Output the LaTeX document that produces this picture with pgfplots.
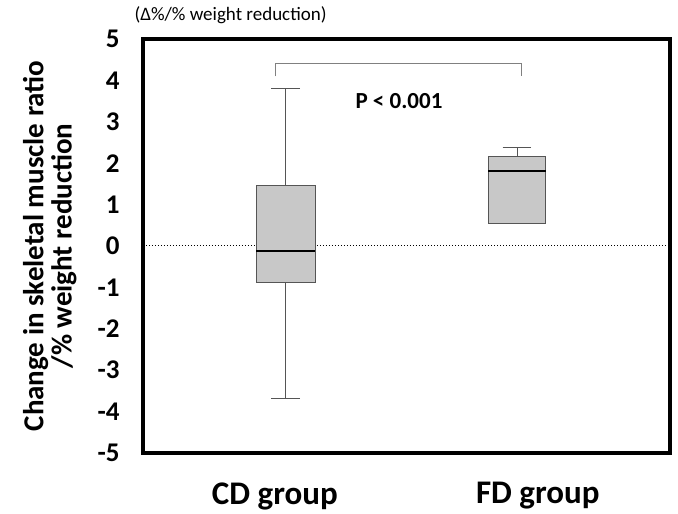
\documentclass[border=0pt]{standalone}
\usepackage{pgfplots}
\pgfplotsset{compat=1.18}
\usepgfplotslibrary{statistics}
\usepackage{fontspec}
\setmainfont{Carlito}
\definecolor{boxfill}{HTML}{C8C8C8}
\definecolor{boxedge}{HTML}{555555}
\begin{document}
\begin{tikzpicture}
\begin{axis}[
  name=ax,
  scale only axis,
  width=527pt, height=414pt,
  xmin=0.384, xmax=2.661,
  ymin=-5, ymax=5,
  ytick={-5,-4,...,5},
  xtick={0.954,2.09},
  xticklabels={CD group, FD group},
  major tick length=0pt,
  axis line style={line width=3.2pt},
  boxplot/draw direction=y,
  /pgf/number format/assume math mode=true,
  yticklabel style={font=\fontsize{27}{30}\selectfont\bfseries, xshift=-20pt},
  xticklabel style={font=\fontsize{33}{36}\selectfont\bfseries, yshift=-26pt},
  ylabel={\shortstack{Change in skeletal muscle ratio\\ /\% weight reduction}},
  ylabel style={font=\fontsize{29}{34}\selectfont\bfseries, yshift=14pt},
  clip=false,
]
% dotted zero line
\addplot[black, dotted, line width=1pt] coordinates {(0.384,0) (2.661,0)};
% CD group
\addplot[draw=boxedge, fill=boxfill, line width=1pt,
  boxplot prepared={median=-0.12, upper quartile=1.47, lower quartile=-0.88,
    upper whisker=3.81, lower whisker=-3.68, draw position=1,
    box extend=0.255, whisker extend=0.125,
    every median/.style={black, line width=2.2pt}}]
  coordinates {};
% FD group
\addplot[draw=boxedge, fill=boxfill, line width=1pt,
  boxplot prepared={median=1.82, upper quartile=2.17, lower quartile=0.55,
    upper whisker=2.39, lower whisker=0.55, draw position=2,
    box extend=0.25, whisker extend=0.125,
    every median/.style={black, line width=2.2pt}}]
  coordinates {};
% significance bracket
\addplot[gray, line width=0.8pt] coordinates {(0.954,4.1) (0.954,4.41) (2.02,4.41) (2.02,4.1)};
\node[font=\fontsize{23}{26}\selectfont\bfseries] at (axis cs:1.49,3.49) {P < 0.001};
\end{axis}
\node[font=\fontsize{19}{22}\selectfont, anchor=west] at ([xshift=-12pt,yshift=24pt]ax.north west) {(Δ\%/\% weight reduction)};
\path ([xshift=-143pt,yshift=-57pt]ax.south west) rectangle ([xshift=8pt,yshift=39pt]ax.north east);
\end{tikzpicture}
\end{document}
